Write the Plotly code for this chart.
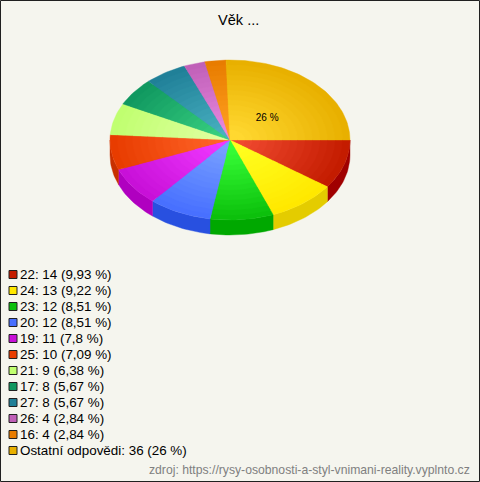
import math
import plotly.graph_objects as go

categories = ["22", "24", "23", "20", "19", "25", "21", "17", "27", "26", "16", "Ostatní odpovědi"]
counts = [14, 13, 12, 12, 11, 10, 9, 8, 8, 4, 4, 36]
percent_labels = ["9,93", "9,22", "8,51", "8,51", "7,8", "7,09", "6,38", "5,67", "5,67", "2,84", "2,84", "26"]
title_text = "Věk ..."
source_text = "zdroj: https://rysy-osobnosti-a-styl-vnimani-reality.vyplnto.cz"
center_label = "26 %"

rim_colors = ["#C41C00", "#FFE800", "#0CC00C", "#4870FF", "#C810D8", "#E83C00",
              "#C0FF70", "#109860", "#208098", "#C060B8", "#E87C00", "#E8B000"]
hub_colors = ["#F04A30", "#FFFF20", "#38FF38", "#78A0FF", "#F038FF", "#FF6428",
              "#E0FFA0", "#38D080", "#48B0C0", "#E888E0", "#FFA020", "#FFD830"]
side_colors = ["#A00000", "#E4CC00", "#00A800", "#2850E0", "#B000C0", "#C83000",
               "#98C850", "#087848", "#106078", "#985090", "#C06000", "#C09000"]

CX, CY, RX, RY, DEPTH = 230, 140, 120, 80, 15
BG = "#F5F5EE"
RINGS = 16


def mix(a, b, t):
    ca = [int(a[i:i + 2], 16) for i in (1, 3, 5)]
    cb = [int(b[i:i + 2], 16) for i in (1, 3, 5)]
    return "#" + "".join(f"{round(x + (y - x) * t):02X}" for x, y in zip(ca, cb))


def arc(a0, a1, frac=1.0, dy=0.0):
    n = max(2, int(abs(a1 - a0) / 1.5))
    angs = [a0 + (a1 - a0) * i / n for i in range(n + 1)]
    xs = [CX + RX * frac * math.cos(math.radians(a)) for a in angs]
    ys = [CY + dy + RY * frac * math.sin(math.radians(a)) for a in angs]
    return xs, ys


total = sum(counts)
bounds = [0.0]
for c in counts:
    bounds.append(bounds[-1] + c / total * 360)

fig = go.Figure()


def poly(xs, ys, color):
    fig.add_trace(go.Scatter(x=xs, y=ys, mode="lines", fill="toself", fillcolor=color,
                             line=dict(color=color, width=0.4), hoverinfo="skip", showlegend=False))


# side wall of the pie
for i, c in enumerate(counts):
    a0, a1 = bounds[i], min(bounds[i + 1], 180)
    if a0 >= 180:
        continue
    x1, y1 = arc(a0, a1)
    x2, y2 = arc(a0, a1, dy=DEPTH)
    poly(x1 + x2[::-1] + [x1[0]], y1 + y2[::-1] + [y1[0]], side_colors[i])

# top face: concentric wedges, painted from the rim inwards
for r in range(RINGS):
    frac = 1 - r / RINGS
    t = min(1.0, r / (RINGS - 2))
    for i, c in enumerate(counts):
        xs, ys = arc(bounds[i], bounds[i + 1], frac)
        poly([CX] + xs + [CX], [CY] + ys + [CY], mix(rim_colors[i], hub_colors[i], t))

# slice label of the largest slice
mid = math.radians((bounds[-2] + bounds[-1]) / 2)
fig.add_trace(go.Scatter(x=[CX + RX * 0.44 * math.cos(mid) + 0.5], y=[CY + RY * 0.38 * math.sin(mid)],
                         mode="text", text=[center_label], textposition="middle center",
                         textfont=dict(family="Liberation Sans", size=10, color="#000000"),
                         hoverinfo="skip", showlegend=False))

# legend rows
ROW0, ROWH = 274.5, 16
rows = [ROW0 + ROWH * i for i in range(len(counts))]
fig.add_trace(go.Scatter(
    x=[13] * len(counts), y=rows, mode="markers",
    marker=dict(symbol="square", size=8, color=rim_colors, line=dict(color="#202020", width=1)),
    hoverinfo="skip", showlegend=False))
fig.add_trace(go.Scatter(
    x=[20] * len(counts), y=[y + 1 for y in rows], mode="text",
    text=[f"{n}: {c} ({p} %)" for n, c, p in zip(categories, counts, percent_labels)],
    textposition="middle right",
    textfont=dict(family="Liberation Sans", size=13.4, color="#000000"),
    hoverinfo="skip", showlegend=False))

fig.update_layout(
    width=480, height=482, margin=dict(l=0, r=0, t=0, b=0),
    paper_bgcolor=BG, plot_bgcolor=BG, showlegend=False,
    xaxis=dict(range=[0, 480], visible=False, fixedrange=True),
    yaxis=dict(range=[482, 0], visible=False, fixedrange=True),
    annotations=[
        dict(text=title_text, x=238.5, y=20, xref="x", yref="y", showarrow=False,
             font=dict(family="Liberation Sans", size=14.6, color="#000000")),
        dict(text=source_text, x=471.5, y=470, xref="x", yref="y", xanchor="right", showarrow=False,
             font=dict(family="Liberation Sans", size=12.2, color="#808080")),
    ],
    shapes=[dict(type="rect", xref="x", yref="y", x0=0.5, y0=0.5, x1=479.5, y1=481.5,
                 line=dict(color="#202020", width=1), fillcolor="rgba(0,0,0,0)")],
)

fig.write_html("out.html", config={"displayModeBar": False},
               post_script="document.body.style.margin='0';document.body.style.overflow='hidden';")
